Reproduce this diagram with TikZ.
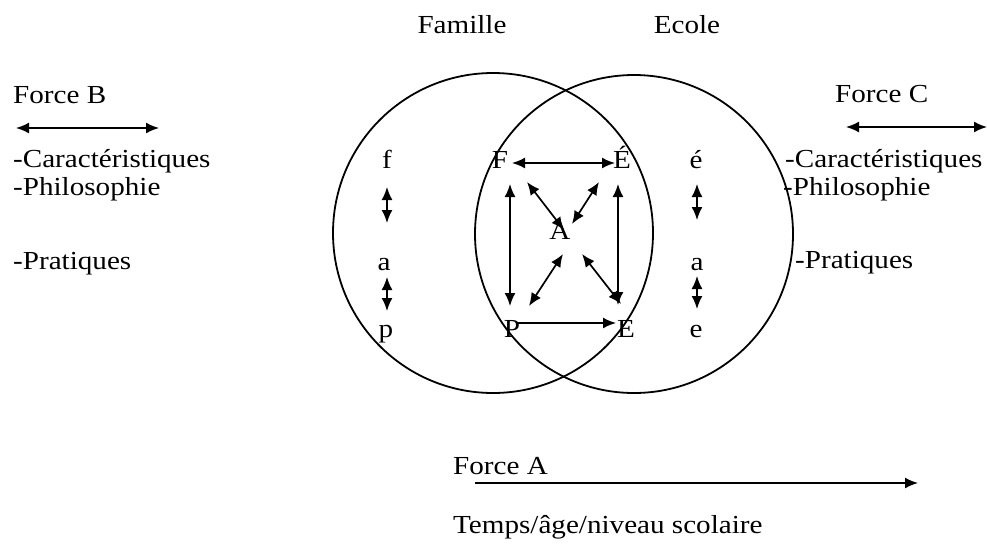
\documentclass[tikz,border=0pt]{standalone}
\usepackage{fontspec}
\setmainfont{Liberation Serif}[FakeStretch=1.12]
\usetikzlibrary{arrows.meta}
\begin{document}
\begin{tikzpicture}[x=1pt,y=-1pt,
  lbl/.style={inner sep=0pt,font=\fontsize{26}{29}\selectfont},
  ring/.style={draw,line width=1.8pt},
  dbl/.style={line width=1.7pt,{Latex[length=13pt,width=11pt]}-{Latex[length=13pt,width=11pt]}},
  sgl/.style={line width=1.7pt,-{Latex[length=13pt,width=11pt]}}]
\useasboundingbox (0,0) rectangle (987,549);
% circles
\node[ring,circle,minimum size=320pt,inner sep=0pt] (famc) at (493,233) {};
\node[ring,circle,minimum size=318pt,inner sep=0pt] (ecoc) at (634,234) {};
% titles
\node[lbl,anchor=base] (famille) at (462,33) {Famille};
\node[lbl,anchor=base] (ecole) at (687,33) {Ecole};
% left side
\node[lbl,anchor=base west] (forceB) at (13,103) {Force B};
\node[lbl,anchor=base west] (lcar) at (13,167) {-Caractéristiques};
\node[lbl,anchor=base west] (lphi) at (13,195) {-Philosophie};
\node[lbl,anchor=base west] (lpra) at (13,269) {-Pratiques};
% right side
\node[lbl,anchor=base west] (forceC) at (835,102) {Force C};
\node[lbl,anchor=base west] (rcar) at (785,167) {-Caractéristiques};
\node[lbl,anchor=base west] (rphi) at (783,195) {-Philosophie};
\node[lbl,anchor=base west] (rpra) at (795,268) {-Pratiques};
% bottom
\node[lbl,anchor=base west] (forceA) at (453,474) {Force A};
\node[lbl,anchor=base west] (temps) at (453,533) {Temps/âge/niveau scolaire};
% letters
\node[lbl,anchor=base] (f) at (387,168) {f};
\node[lbl,anchor=base] (a1) at (384,270) {a};
\node[lbl,anchor=base] (p) at (386,337) {p};
\node[lbl,anchor=base] (F) at (500,168) {F};
\node[lbl,anchor=base] (Eac) at (622,168) {É};
\node[lbl,anchor=base] (A) at (560,239) {A};
\node[lbl,anchor=base] (P) at (512,337) {P};
\node[lbl,anchor=base] (E) at (626,337) {E};
\node[lbl,anchor=base] (eac) at (696,168) {é};
\node[lbl,anchor=base] (a2) at (697,270) {a};
\node[lbl,anchor=base] (e) at (696,337) {e};
% arrow end coordinates
\coordinate (bL) at (16,128);   \coordinate (bR) at (159,128);
\coordinate (cL) at (846,127);  \coordinate (cR) at (987,127);
\coordinate (aL) at (475,483);  \coordinate (aR) at (918,483);
\coordinate (fa1) at (387,187); \coordinate (fa2) at (387,223);
\coordinate (ap1) at (387,277); \coordinate (ap2) at (387,311);
\coordinate (ea1) at (697,184); \coordinate (ea2) at (697,220);
\coordinate (ea3) at (697,276); \coordinate (ea4) at (697,309);
\coordinate (FE1) at (512,163); \coordinate (FE2) at (615,163);
\coordinate (PE1) at (516,323); \coordinate (PE2) at (616,323);
\coordinate (Fv1) at (510,184); \coordinate (Fv2) at (510,306);
\coordinate (Ev1) at (618,184); \coordinate (Ev2) at (618,305);
\coordinate (FA1) at (527,182); \coordinate (FA2) at (564,230);
\coordinate (EA1) at (599,182); \coordinate (EA2) at (572,224);
\coordinate (PA1) at (563,254); \coordinate (PA2) at (529,306);
\coordinate (AE1) at (582,254); \coordinate (AE2) at (621,304);
% force arrows
\draw[dbl] (bL) -- (bR);
\draw[dbl] (cL) -- (cR);
\draw[sgl] (aL) -- (aR);
% small vertical arrows
\draw[dbl] (fa1) -- (fa2);
\draw[dbl] (ap1) -- (ap2);
\draw[dbl] (ea1) -- (ea2);
\draw[dbl] (ea3) -- (ea4);
% central arrows
\draw[dbl] (FE1) -- (FE2);
\draw[sgl] (PE1) -- (PE2);
\draw[dbl] (Fv1) -- (Fv2);
\draw[dbl] (Ev1) -- (Ev2);
\draw[dbl] (FA1) -- (FA2);
\draw[dbl] (EA1) -- (EA2);
\draw[dbl] (PA1) -- (PA2);
\draw[dbl] (AE1) -- (AE2);
\end{tikzpicture}
\end{document}
